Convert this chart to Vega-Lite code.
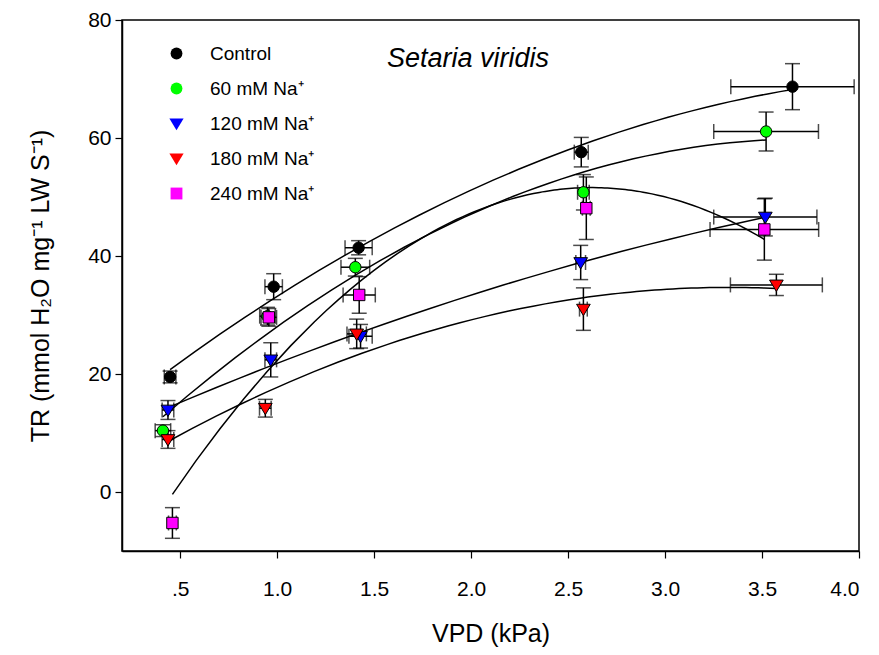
{
  "$schema": "https://vega.github.io/schema/vega-lite/v6.json",
  "width": 737,
  "height": 531,
  "autosize": "none",
  "padding": {"left": 122, "top": 20, "right": 20, "bottom": 104},
  "background": "white",
  "config": {
    "font": "Liberation Sans",
    "view": {"stroke": "black", "strokeWidth": 1.5},
    "axis": {
      "grid": false,
      "domainColor": "black",
      "domainWidth": 1.5,
      "tickColor": "black",
      "tickWidth": 1.2,
      "tickSize": 7,
      "labelColor": "black",
      "titleColor": "black",
      "labelFont": "Liberation Sans",
      "titleFont": "Liberation Sans",
      "labelFontSize": 21,
      "titleFontSize": 25,
      "titleFontWeight": "normal"
    }
  },
  "title": {
    "text": "Setaria viridis",
    "font": "Liberation Sans",
    "fontSize": 27,
    "fontStyle": "italic",
    "fontWeight": "normal",
    "color": "black",
    "anchor": "start",
    "frame": "group",
    "offset": 0,
    "dx": 265,
    "dy": 85,
    "baseline": "alphabetic"
  },
  "data": {
    "values": [
      {"treatment": "Control", "vpd": 0.448, "tr": 19.5, "ex": 0.03, "ey": 1.0},
      {"treatment": "Control", "vpd": 0.982, "tr": 34.8, "ex": 0.045, "ey": 2.2},
      {"treatment": "Control", "vpd": 1.42, "tr": 41.4, "ex": 0.07, "ey": 1.2},
      {"treatment": "Control", "vpd": 2.568, "tr": 57.6, "ex": 0.036, "ey": 2.5},
      {"treatment": "Control", "vpd": 3.657, "tr": 68.7, "ex": 0.318, "ey": 3.9},
      {"treatment": "60 mM Na⁺", "vpd": 0.411, "tr": 10.4, "ex": 0.04, "ey": 1.0},
      {"treatment": "60 mM Na⁺", "vpd": 0.95, "tr": 29.8, "ex": 0.04, "ey": 1.5},
      {"treatment": "60 mM Na⁺", "vpd": 1.403, "tr": 38.1, "ex": 0.074, "ey": 1.5},
      {"treatment": "60 mM Na⁺", "vpd": 2.579, "tr": 50.8, "ex": 0.03, "ey": 3.0},
      {"treatment": "60 mM Na⁺", "vpd": 3.521, "tr": 61.1, "ex": 0.27, "ey": 3.3},
      {"treatment": "120 mM Na⁺", "vpd": 0.437, "tr": 13.9, "ex": 0.03, "ey": 1.6},
      {"treatment": "120 mM Na⁺", "vpd": 0.967, "tr": 22.4, "ex": 0.03, "ey": 2.9},
      {"treatment": "120 mM Na⁺", "vpd": 1.43, "tr": 26.4, "ex": 0.06, "ey": 2.0},
      {"treatment": "120 mM Na⁺", "vpd": 2.565, "tr": 38.9, "ex": 0.025, "ey": 2.9},
      {"treatment": "120 mM Na⁺", "vpd": 3.517, "tr": 46.6, "ex": 0.266, "ey": 3.2},
      {"treatment": "180 mM Na⁺", "vpd": 0.437, "tr": 8.9, "ex": 0.03, "ey": 1.5},
      {"treatment": "180 mM Na⁺", "vpd": 0.939, "tr": 14.2, "ex": 0.03, "ey": 1.5},
      {"treatment": "180 mM Na⁺", "vpd": 1.41, "tr": 26.8, "ex": 0.05, "ey": 2.5},
      {"treatment": "180 mM Na⁺", "vpd": 2.579, "tr": 31.0, "ex": 0.02, "ey": 3.6},
      {"treatment": "180 mM Na⁺", "vpd": 3.574, "tr": 35.1, "ex": 0.237, "ey": 1.8},
      {"treatment": "240 mM Na⁺", "vpd": 0.46, "tr": -5.25, "ex": 0.02, "ey": 2.6},
      {"treatment": "240 mM Na⁺", "vpd": 0.957, "tr": 29.6, "ex": 0.04, "ey": 1.5},
      {"treatment": "240 mM Na⁺", "vpd": 1.423, "tr": 33.4, "ex": 0.083, "ey": 3.1},
      {"treatment": "240 mM Na⁺", "vpd": 2.594, "tr": 48.1, "ex": 0.02, "ey": 5.3},
      {"treatment": "240 mM Na⁺", "vpd": 3.512, "tr": 44.5, "ex": 0.28, "ey": 5.2}
    ]
  },
  "encoding": {
    "x": {
      "field": "vpd",
      "type": "quantitative",
      "scale": {"domain": [0.2, 4.0], "nice": false, "zero": false},
      "axis": {
        "title": "VPD (kPa)",
        "values": [0.5, 1.0, 1.5, 2.0, 2.5, 3.0, 3.5, 4.0],
        "labelExpr": "datum.value == 0.5 ? '.5' : format(datum.value, '.1f')",
        "labelPadding": 20,
        "titlePadding": 22
      }
    },
    "y": {
      "field": "tr",
      "type": "quantitative",
      "scale": {"domain": [-10, 80], "nice": false, "zero": false},
      "axis": {
        "title": "TR (mmol H₂O mg⁻¹ LW S⁻¹)",
        "values": [0, 20, 40, 60, 80],
        "labelPadding": 4,
        "titlePadding": 34
      }
    }
  },
  "layer": [
    {
      "transform": [
        {"regression": "tr", "on": "vpd", "method": "poly", "order": 2, "groupby": ["treatment"]}
      ],
      "mark": {"type": "line", "color": "black", "strokeWidth": 1.5},
      "encoding": {"detail": {"field": "treatment"}}
    },
    {
      "mark": {
        "type": "errorbar",
        "color": "black",
        "rule": {"strokeWidth": 1.5},
        "ticks": {"size": 15, "thickness": 1.5}
      },
      "encoding": {"yError": {"field": "ey"}}
    },
    {
      "mark": {
        "type": "errorbar",
        "color": "black",
        "rule": {"strokeWidth": 1.5},
        "ticks": {"size": 15, "thickness": 1.5}
      },
      "encoding": {"xError": {"field": "ex"}}
    },
    {
      "mark": {"type": "point", "filled": true, "stroke": "black", "strokeWidth": 1, "opacity": 1, "size": 130},
      "encoding": {
        "fill": {
          "field": "treatment",
          "type": "nominal",
          "scale": {
            "domain": ["Control", "60 mM Na⁺", "120 mM Na⁺", "180 mM Na⁺", "240 mM Na⁺"],
            "range": ["#000000", "#00FF00", "#0000FF", "#FF0000", "#FF00FF"]
          },
          "legend": {
            "title": null,
            "orient": "none",
            "legendX": 45,
            "legendY": 24,
            "padding": 0,
            "labelFont": "Liberation Sans",
            "labelFontSize": 19,
            "labelColor": "black",
            "labelOffset": 24,
            "rowPadding": 15,
            "symbolSize": 140,
            "symbolStrokeColor": "black",
            "symbolStrokeWidth": 1
          }
        },
        "shape": {
          "field": "treatment",
          "type": "nominal",
          "scale": {
            "domain": ["Control", "60 mM Na⁺", "120 mM Na⁺", "180 mM Na⁺", "240 mM Na⁺"],
            "range": ["circle", "circle", "M-1.2,-0.85L1.2,-0.85L0,1.15Z", "M-1.2,-0.85L1.2,-0.85L0,1.15Z", "square"]
          },
          "legend": {
            "title": null,
            "orient": "none",
            "legendX": 45,
            "legendY": 24,
            "padding": 0,
            "labelFont": "Liberation Sans",
            "labelFontSize": 19,
            "labelColor": "black",
            "labelOffset": 24,
            "rowPadding": 15,
            "symbolSize": 140,
            "symbolStrokeColor": "black",
            "symbolStrokeWidth": 1
          }
        }
      }
    }
  ]
}
